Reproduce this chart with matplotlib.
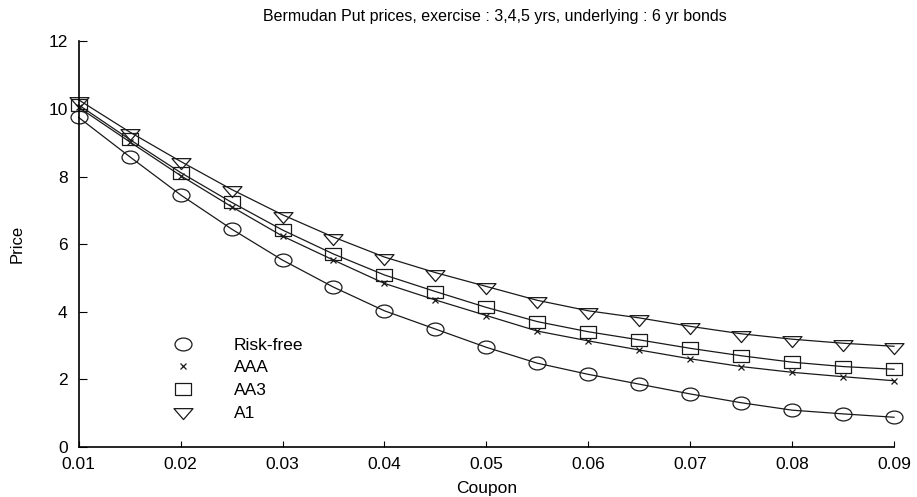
import numpy as np
import matplotlib
matplotlib.use("Agg")
import matplotlib.pyplot as plt
from matplotlib.path import Path
from matplotlib.lines import Line2D

plt.rcParams['font.family'] = ['Liberation Sans', 'DejaVu Sans']

# bermudan put prices by coupon, one series per credit class
coupon = [0.010, 0.015, 0.020, 0.025, 0.030, 0.035, 0.040, 0.045, 0.050,
          0.055, 0.060, 0.065, 0.070, 0.075, 0.080, 0.085, 0.090]
risk_free = [9.75, 8.59, 7.46, 6.45, 5.53, 4.73, 4.03, 3.49, 2.95,
             2.48, 2.15, 1.86, 1.57, 1.31, 1.09, 0.98, 0.88]
aaa = [10.05, 9.03, 8.03, 7.11, 6.24, 5.53, 4.84, 4.35, 3.89,
       3.43, 3.14, 2.87, 2.61, 2.38, 2.21, 2.08, 1.96]
aa3 = [10.12, 9.10, 8.12, 7.24, 6.42, 5.71, 5.09, 4.60, 4.13,
       3.71, 3.41, 3.17, 2.92, 2.70, 2.51, 2.38, 2.30]
a1 = [10.27, 9.32, 8.45, 7.62, 6.87, 6.21, 5.62, 5.16, 4.75,
      4.34, 4.03, 3.82, 3.57, 3.35, 3.19, 3.07, 2.98]

series_names = ['Risk-free', 'AAA', 'AA3', 'A1']
x_ticks = [0.01, 0.02, 0.03, 0.04, 0.05, 0.06, 0.07, 0.08, 0.09]
y_ticks = [0, 2, 4, 6, 8, 10, 12]

# wide, flat marker shapes
ellipse = Path(Path.unit_circle().vertices * np.array([1.0, 0.76]),
               Path.unit_circle().codes)
rect = Path([(-1, -0.78), (1, -0.78), (1, 0.78), (-1, 0.78), (-1, -0.78)],
            [Path.MOVETO, Path.LINETO, Path.LINETO, Path.LINETO, Path.CLOSEPOLY])
tri_down = Path([(-1, 0.3), (1, 0.3), (0, -0.85), (-1, 0.3)],
                [Path.MOVETO, Path.LINETO, Path.LINETO, Path.CLOSEPOLY])

ink = '#1a1a1a'
styles = [
    dict(marker=ellipse, markersize=12.2, markeredgewidth=0.9),
    dict(marker='x', markersize=4.5, markeredgewidth=0.9),
    dict(marker=rect, markersize=11.5, markeredgewidth=0.9),
    dict(marker=tri_down, markersize=13.7, markeredgewidth=0.9),
]

fig = plt.figure(figsize=(9.17, 4.97), dpi=100)
ax = fig.add_axes([0.0858, 0.1006, 0.8891, 0.8161])

handles = []
for ys, st, name in zip([risk_free, aaa, aa3, a1], styles, series_names):
    ax.plot(coupon, ys, color=ink, linewidth=0.9, markerfacecolor='none',
            markeredgecolor=ink, clip_on=False, **st)
    handles.append(Line2D([], [], linestyle='none', markerfacecolor='none',
                          markeredgecolor=ink, label=name, **st))

ax.set_xlim(0.01, 0.09)
ax.set_ylim(0, 12)
ax.set_xticks(x_ticks)
ax.set_xticklabels(['%.2f' % v for v in x_ticks])
ax.set_yticks(y_ticks)
ax.spines['top'].set_visible(False)
ax.spines['right'].set_visible(False)
for s in ('left', 'bottom'):
    ax.spines[s].set_linewidth(1.2)
    ax.spines[s].set_color('black')
ax.tick_params(axis='x', direction='in', length=4, width=0.8, pad=7, labelsize=12.5)
ax.tick_params(axis='y', direction='in', length=6, width=0.8, pad=8, labelsize=12.5)

ax.set_xlabel('Coupon', fontsize=12.5)
ax.xaxis.set_label_coords(0.5, -0.083)
ax.set_ylabel('Price', fontsize=12)
ax.yaxis.set_label_coords(-0.066, 0.5)

fig.text(0.54, 1 - 17 / 497, 'Bermudan Put prices, exercise : 3,4,5 yrs, underlying : 6 yr bonds',
         ha='center', va='center', fontsize=11.5)

ax.legend(handles=handles, loc='center left', bbox_to_anchor=(166 / 917, 1 - 379 / 497),
          bbox_transform=fig.transFigure, frameon=False, fontsize=12.5,
          handlelength=2.0, handletextpad=1.9, labelspacing=0.43,
          borderpad=0, borderaxespad=0)

fig.savefig('out.png', dpi=100)
